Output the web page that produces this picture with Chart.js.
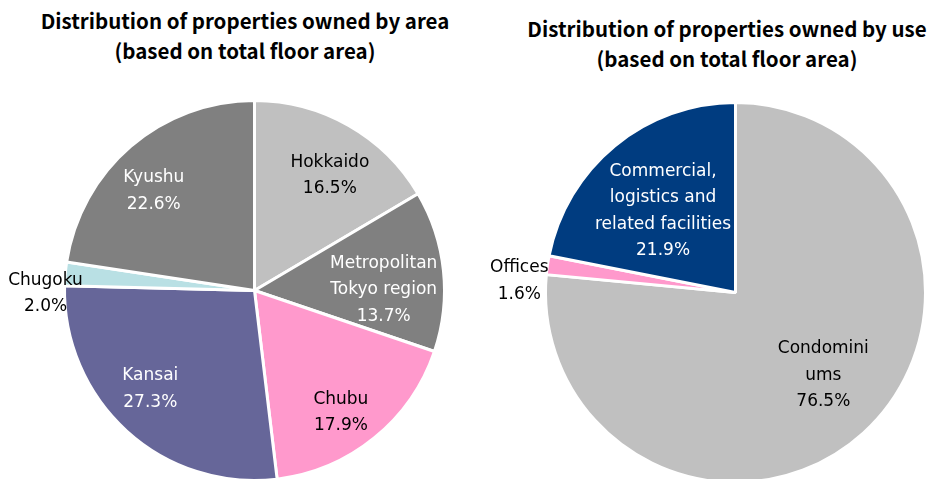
<!DOCTYPE html>
<html>
<head>
<meta charset="utf-8">
<script src="https://cdn.jsdelivr.net/npm/chart.js@4.4.0/dist/chart.umd.min.js"></script>
<style>
	html, body { margin: 0; padding: 0; background: #fff; overflow: hidden; width: 930px; height: 479px; }
	.title { position: absolute; font-family: "Noto Sans CJK JP", "DejaVu Sans", sans-serif; font-weight: bold; font-size: 20.5px; line-height: 30px; text-align: center; color: #000; white-space: nowrap; }
	canvas { position: absolute; top: 0; }
</style>
</head>
<body>
<div class="title" style="left:0; width:490px; top:5px;">Distribution of properties owned by area<br>(based on total floor area)</div>
<div class="title" style="left:482px; width:490px; top:13px;">Distribution of properties owned by use<br>(based on total floor area)</div>
<canvas id="areaChart" width="465" height="500" style="left:0;"></canvas>
<canvas id="useChart" width="465" height="500" style="left:465px;"></canvas>
<script>
// area chart data
const areaLabels = [['Hokkaido'], ['Metropolitan', 'Tokyo region'], ['Chubu'], ['Kansai'], ['Chugoku'], ['Kyushu']];
const areaValues = [16.5, 13.7, 17.9, 27.3, 2.0, 22.6];
const areaColors = ['#c0c0c0', '#808080', '#ff99cc', '#666699', '#b9e0e4', '#808080'];
const areaTextColors = ['#000', '#fff', '#000', '#fff', '#000', '#fff'];
// label distance (share of radius) and angle nudge (degrees) per slice
const areaLabelRadius = [0.73, 0.68, 0.78, 0.75, 1.1, 0.75];
const areaLabelTurn = [3.2, 4.9, 3.4, 4.7, -5.5, -4.3];

// use chart data
const useLabels = [['Condomini', 'ums'], ['Offices'], ['Commercial,', 'logistics and', 'related facilities']];
const useValues = [76.5, 1.6, 21.9];
const useColors = ['#c0c0c0', '#ff99cc', '#003c80'];
const useTextColors = ['#000', '#000', '#fff'];
const useLabelRadius = [0.63, 1.14, 0.58];
const useLabelTurn = [-4.9, -4.9, -1.7];

// draws the category name and percent on each slice
const sliceLabels = {
	id: 'sliceLabels',
	afterDatasetsDraw(chart, args, opts) {
		const ctx = chart.ctx;
		const meta = chart.getDatasetMeta(0);
		const values = chart.data.datasets[0].data;
		ctx.save();
		ctx.font = '17px "DejaVu Sans", sans-serif';
		ctx.textAlign = 'center';
		ctx.textBaseline = 'middle';
		meta.data.forEach((arc, i) => {
			const p = arc.getProps(['x', 'y', 'startAngle', 'endAngle', 'outerRadius'], true);
			const mid = (p.startAngle + p.endAngle) / 2 + opts.turn[i] * Math.PI / 180;
			const r = p.outerRadius * opts.radius[i];
			const cx = p.x + Math.cos(mid) * r;
			const cy = p.y + Math.sin(mid) * r + 1.5;
			const lines = chart.data.labels[i].concat([values[i].toFixed(1) + '%']);
			const lh = 26.5;
			const top = cy - (lines.length - 1) * lh / 2;
			ctx.fillStyle = opts.colors[i];
			lines.forEach((t, j) => ctx.fillText(t, cx, top + j * lh));
		});
		ctx.restore();
	}
};

function drawPie(id, labels, values, colors, textColors, radius, turn, padding) {
	const ctx = document.getElementById(id).getContext('2d');
	return new Chart(ctx, {
		type: 'pie',
		data: {
			labels: labels,
			datasets: [{
				data: values,
				backgroundColor: colors,
				borderColor: '#ffffff',
				borderWidth: 3
			}]
		},
		options: {
			responsive: false,
			animation: false,
			layout: { padding: padding },
			plugins: {
				legend: { display: false },
				tooltip: { enabled: false },
				sliceLabels: { colors: textColors, radius: radius, turn: turn }
			}
		},
		plugins: [sliceLabels]
	});
}

drawPie('areaChart', areaLabels, areaValues, areaColors, areaTextColors, areaLabelRadius, areaLabelTurn,
	{ left: 63, right: 19, top: 99, bottom: 18 });
drawPie('useChart', useLabels, useValues, useColors, useTextColors, useLabelRadius, useLabelTurn,
	{ left: 79, right: 3, top: 101, bottom: 16 });
</script>
</body>
</html>
